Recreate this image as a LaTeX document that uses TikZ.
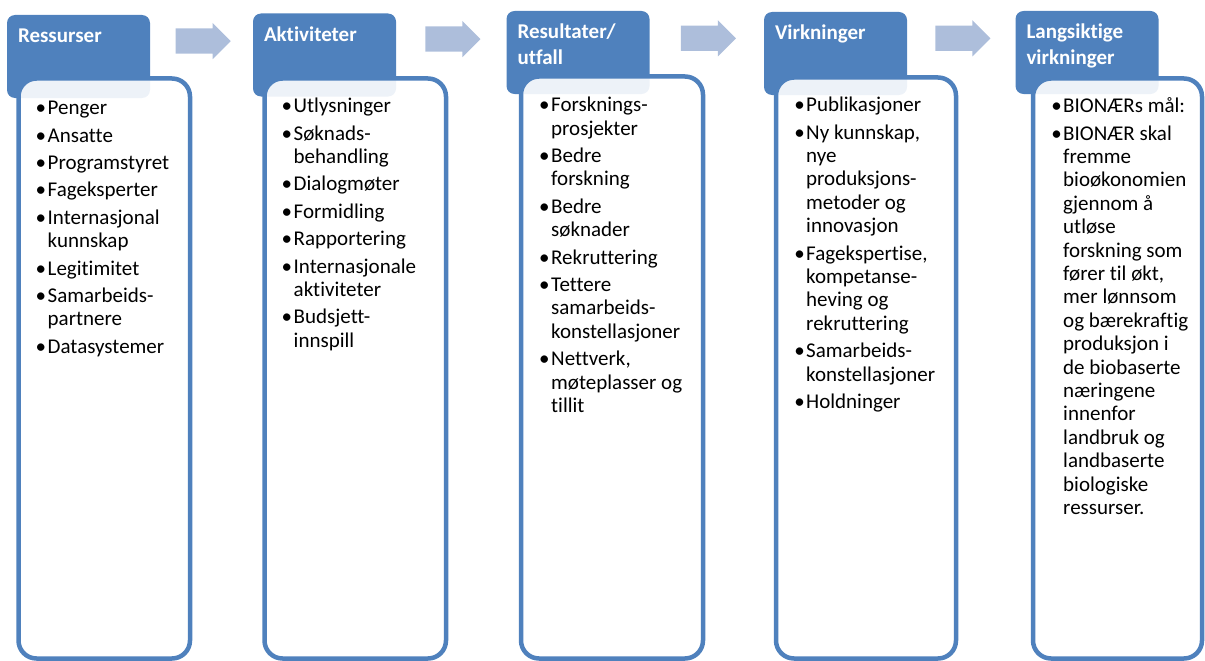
\documentclass[tikz,border=0pt]{standalone}
\usepackage{fontspec}
\setmainfont{Carlito}[Ligatures=NoCommon]
\usetikzlibrary{shapes.arrows,calc}

\definecolor{hdrblue}{RGB}{79,129,189}
\definecolor{arrowblue}{RGB}{173,190,219}

\newcommand{\itm}{\llap{\textbullet\hspace{1.5pt}}}

\begin{document}
\begin{tikzpicture}[x=1pt,y=-1pt,
  head node/.style={rectangle,rounded corners=8pt,fill=hdrblue,minimum width=143pt,minimum height=83pt,inner sep=0pt},
  head text/.style={anchor=north west,inner sep=0pt,align=left,text=white,font=\fontsize{21}{25}\selectfont\bfseries},
  box node/.style={rectangle,rounded corners=18pt,draw=hdrblue,line width=4.5pt,fill=white,fill opacity=0.9,minimum height=580pt,inner sep=0pt,outer sep=0pt},
  list text/.style={anchor=north west,inner sep=0pt,align=left,font=\fontsize{21}{23.4}\selectfont},
  flow arrow/.style={single arrow,anchor=tail,fill=arrowblue,minimum height=55pt,inner xsep=0pt,inner ysep=12.5pt,single arrow head extend=5.5pt,single arrow tip angle=90}]

  \useasboundingbox (0,0) rectangle (1205,661);

  % headers
  \node[head node] (h1) at (78.5,56.5) {};
  \node[head node] (h2) at (324.5,55) {};
  \node[head node] (h3) at (578,52.5) {};
  \node[head node] (h4) at (835.5,53.5) {};
  \node[head node] (h5) at (1087,52.5) {};

  % boxes
  \node[box node,minimum width=171.5pt] (b1) at (104.25,368.5) {};
  \node[box node,minimum width=181.5pt] (b2) at (355.25,368.5) {};
  \node[box node,minimum width=182pt,minimum height=582pt] (b3) at (612,367.5) {};
  \node[box node,minimum width=180pt,minimum height=581pt] (b4) at (866,368) {};
  \node[box node,minimum width=169pt] (b5) at (1117.5,368.5) {};

  % arrows
  \node[flow arrow] (a1) at ($(h1.north east)!0.5!(h2.north west)+(-26,27)$) {};
  \node[flow arrow] (a2) at ($(h2.north east)!0.5!(h3.north west)+(-26,27)$) {};
  \node[flow arrow] (a3) at ($(h3.north east)!0.5!(h4.north west)+(-26,27)$) {};
  \node[flow arrow] (a4) at ($(h4.north east)!0.5!(h5.north west)+(-26,27)$) {};

  \node[head text] (l1) at ($(h1.north west)+(11,10.5)$) {\strut Ressurser};
  \node[head text] (l2) at ($(h2.north west)+(11,10.5)$) {\strut Aktiviteter};
  \node[head text] (l3) at ($(h3.north west)+(11,10.5)$) {\strut Resultater/\\utfall};
  \node[head text] (l4) at ($(h4.north west)+(11,10.5)$) {\strut Virkninger};
  \node[head text] (l5) at ($(h5.north west)+(11,10.5)$) {\strut Langsiktige\\virkninger};

  \node[list text] (t1) at ($(b1.north west)+(29,19.6)$) {\strut\itm Penger\\[4pt]
    \itm Ansatte\\[4pt]
    \itm Programstyret\\[4pt]
    \itm Fageksperter\\[4pt]
    \itm Internasjonal\\kunnskap\\[4pt]
    \itm Legitimitet\\[4pt]
    \itm Samarbeids-\\partnere\\[4pt]
    \itm Datasystemer};
  \node[list text] (t2) at ($(b2.north west)+(29,17.6)$) {\strut\itm Utlysninger\\[4pt]
    \itm Søknads-\\behandling\\[4pt]
    \itm Dialogmøter\\[4pt]
    \itm Formidling\\[4pt]
    \itm Rapportering\\[4pt]
    \itm Internasjonale\\aktiviteter\\[4pt]
    \itm Budsjett-\\innspill};
  \node[list text] (t3) at ($(b3.north west)+(30,18.6)$) {\strut\itm Forsknings-\\prosjekter\\[4pt]
    \itm Bedre\\forskning\\[4pt]
    \itm Bedre\\søknader\\[4pt]
    \itm Rekruttering\\[4pt]
    \itm Tettere\\samarbeids-\\konstellasjoner\\[4pt]
    \itm Nettverk,\\møteplasser og\\tillit};
  \node[list text] (t4) at ($(b4.north west)+(30,17.6)$) {\strut\itm Publikasjoner\\[4pt]
    \itm Ny kunnskap,\\nye\\produksjons-\\metoder og\\innovasjon\\[4pt]
    \itm Fagekspertise,\\kompetanse-\\heving og\\rekruttering\\[4pt]
    \itm Samarbeids-\\konstellasjoner\\[4pt]
    \itm Holdninger};
  \node[list text] (t5) at ($(b5.north west)+(30,17.6)$) {\strut\itm BIONÆRs mål:\\[4pt]
    \itm BIONÆR skal\\fremme\\bioøkonomien\\gjennom å\\utløse\\forskning som\\fører til økt,\\mer lønnsom\\og bærekraftig\\produksjon i\\de biobaserte\\næringene\\innenfor\\landbruk og\\landbaserte\\biologiske\\ressurser.};
\end{tikzpicture}
\end{document}
